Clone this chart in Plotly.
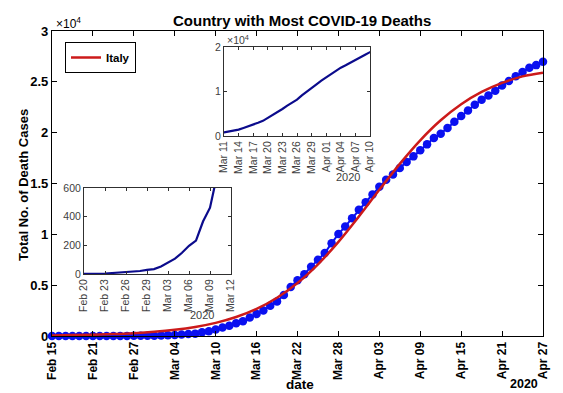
import pandas as pd
import plotly.graph_objects as go

# ---------------- data ----------------
start_date = "2020-02-15"
italy_deaths = [
    0, 0, 0, 0, 0, 0, 1, 2, 3, 7, 10, 12, 17, 21, 29,            # Feb 15 - Feb 29
    34, 52, 79, 107, 148, 197, 233, 366, 463, 631, 827, 1016, 1266, 1441, 1809,
    2158, 2503, 2978, 3405, 4032, 4825, 5476, 6077, 6820, 7503, 8165, 9134,
    10023, 10779, 11591, 12428,                                   # Mar 1 - Mar 31
    13155, 13915, 14681, 15362, 15887, 16523, 17127, 17669, 18279, 18849,
    19468, 19899, 20465, 21067, 21645, 22170, 22745, 23227, 23660, 24114,
    24648, 25085, 25549, 25969, 26384, 26644, 26977               # Apr 1 - Apr 27
]
fit_dates = ["2020-02-15", "2020-02-18", "2020-02-21", "2020-02-24", "2020-02-27",
             "2020-03-01", "2020-03-04", "2020-03-07", "2020-03-10", "2020-03-13",
             "2020-03-16", "2020-03-19", "2020-03-22", "2020-03-25", "2020-03-28",
             "2020-03-31", "2020-04-03", "2020-04-06", "2020-04-09", "2020-04-12",
             "2020-04-15", "2020-04-18", "2020-04-21", "2020-04-24", "2020-04-27"]
fit_values = [60, 88, 130, 192, 282, 415, 608, 889, 1292, 1867, 2669, 3766, 5212,
              7051, 9260, 11755, 14376, 16933, 19251, 21218, 22794, 24002, 24894,
              25537, 25900]

main_tick_dates = ["2020-02-15", "2020-02-21", "2020-02-27", "2020-03-04", "2020-03-10",
                   "2020-03-16", "2020-03-22", "2020-03-28", "2020-04-03", "2020-04-09",
                   "2020-04-15", "2020-04-21", "2020-04-27"]
main_tick_labels = ["Feb 15", "Feb 21", "Feb 27", "Mar 04", "Mar 10", "Mar 16", "Mar 22",
                    "Mar 28", "Apr 03", "Apr 09", "Apr 15", "Apr 21", "Apr 27"]
main_y_ticks = [0, 5000, 10000, 15000, 20000, 25000, 30000]
main_y_labels = ["0", "0.5", "1", "1.5", "2", "2.5", "3"]

inset1_tick_dates = ["2020-02-20", "2020-02-23", "2020-02-26", "2020-02-29",
                     "2020-03-03", "2020-03-06", "2020-03-09", "2020-03-12"]
inset1_tick_labels = ["Feb 20", "Feb 23", "Feb 26", "Feb 29", "Mar 03", "Mar 06",
                      "Mar 09", "Mar 12"]
inset1_y_ticks = [0, 200, 400, 600]
inset1_y_labels = ["0", "200", "400", "600"]

inset2_tick_dates = ["2020-03-11", "2020-03-14", "2020-03-17", "2020-03-20", "2020-03-23",
                     "2020-03-26", "2020-03-29", "2020-04-01", "2020-04-04", "2020-04-07",
                     "2020-04-10"]
inset2_tick_labels = ["Mar 11", "Mar 14", "Mar 17", "Mar 20", "Mar 23", "Mar 26",
                      "Mar 29", "Apr 01", "Apr 04", "Apr 07", "Apr 10"]
inset2_y_ticks = [0, 10000, 20000]
inset2_y_labels = ["0", "1", "2"]

dates = pd.date_range(start_date, periods=len(italy_deaths), freq="D")

FONT = "Liberation Sans, Arial, sans-serif"
BLUE = "#0a10f0"
NAVY = "#0b0b8c"
RED = "#cc1a1a"
GRAY = "#404040"

# plot area of the main axes on screen (page has an 8px body margin)
PX0, PX1, PY0, PY1 = 52, 543, 31, 336
OFF = 8


def px(x):
    return (x - PX0) / (PX1 - PX0)


def py(y):
    return (PY1 - y) / (PY1 - PY0)


fig = go.Figure()

fig.add_trace(go.Scatter(x=dates, y=italy_deaths, mode="lines+markers",
                         line=dict(color=BLUE, width=2),
                         marker=dict(color=BLUE, size=8.5, line=dict(width=0)),
                         showlegend=False, cliponaxis=False, xaxis="x", yaxis="y"))
fig.add_trace(go.Scatter(x=pd.to_datetime(fit_dates), y=fit_values, mode="lines",
                         line=dict(color=RED, width=2.5, shape="spline"),
                         name="Italy", xaxis="x", yaxis="y"))
fig.add_trace(go.Scatter(x=dates, y=italy_deaths, mode="lines",
                         line=dict(color=NAVY, width=2.2), showlegend=False,
                         xaxis="x2", yaxis="y2"))
fig.add_trace(go.Scatter(x=dates, y=italy_deaths, mode="lines",
                         line=dict(color=NAVY, width=2.2), showlegend=False,
                         xaxis="x3", yaxis="y3"))

main_tick_font = dict(family=FONT, size=12, color="black", weight="bold")
main_ytick_font = dict(family=FONT, size=13, color="black", weight="bold")
inset_tick_font = dict(family=FONT, size=10.5, color=GRAY)

common = dict(showgrid=False, zeroline=False, showline=True, mirror="ticks",
              ticks="inside", automargin=False)
inset_style = dict(linecolor="#303030", linewidth=1, ticklen=3, tickcolor="#303030",
                   tickfont=inset_tick_font)

W, H = 563, 393
fig.update_layout(
    width=W, height=H,
    margin=dict(l=PX0 - OFF, r=W - (PX1 - OFF), t=PY0 - OFF, b=H - (PY1 - OFF),
                autoexpand=False),
    paper_bgcolor="white", plot_bgcolor="white",
    font=dict(family=FONT, color="black"),
    xaxis=dict(**common, type="date", range=["2020-02-15", "2020-04-27"],
               tickvals=main_tick_dates, ticktext=main_tick_labels, tickangle=-90,
               tickfont=main_tick_font, linecolor="black", linewidth=1.2,
               ticklen=5, tickcolor="black"),
    yaxis=dict(**common, range=[0, 30000], tickvals=main_y_ticks,
               ticktext=main_y_labels, tickfont=main_ytick_font,
               linecolor="black", linewidth=1.2, ticklen=5, tickcolor="black"),
    xaxis2=dict(**common, **inset_style, type="date", domain=[px(84), px(231)],
                anchor="y2", range=["2020-02-20", "2020-03-12"],
                tickvals=inset1_tick_dates, ticktext=inset1_tick_labels,
                tickangle=-90),
    yaxis2=dict(**common, **inset_style, domain=[py(274), py(188)], anchor="x2",
                range=[0, 600], tickvals=inset1_y_ticks, ticktext=inset1_y_labels),
    xaxis3=dict(**common, **inset_style, type="date", domain=[px(224), px(370)],
                anchor="y3", range=["2020-03-11", "2020-04-10"],
                tickvals=inset2_tick_dates, ticktext=inset2_tick_labels,
                tickangle=-90),
    yaxis3=dict(**common, **inset_style, domain=[py(136), py(47)], anchor="x3",
                range=[0, 20000], tickvals=inset2_y_ticks, ticktext=inset2_y_labels),
    legend=dict(x=px(65), y=py(42), xanchor="left", yanchor="top",
                bordercolor="black", borderwidth=1, bgcolor="white",
                font=dict(family=FONT, size=11.5, color="black", weight="bold"),
                itemwidth=30, tracegroupgap=0),
)

annotations = [
    # text, x, y, size, color, xanchor, angle
    ("<b>Country with Most COVID-19 Deaths</b>", 302, 20, 15, "black", "center", 0),
    ("<b>Total No. of Death Cases</b>", 24, 185, 13, "black", "center", -90),
    ("<b>date</b>", 300, 384, 13.5, "black", "center", 0),
    ("<b>2020</b>", 524, 384, 12.5, "black", "center", 0),
    ("×10<sup>4</sup>", 54, 23, 12, "black", "left", 0),
    ("×10<sup>4</sup>", 225, 40, 10.5, GRAY, "left", 0),
    ("2020", 202, 315, 11, GRAY, "center", 0),
    ("2020", 348, 177, 11, GRAY, "center", 0),
]
for text, x, y, size, color, xa, ang in annotations:
    fig.add_annotation(text=text, xref="paper", yref="paper", x=px(x), y=py(y),
                       xanchor=xa, yanchor="middle", showarrow=False, textangle=ang,
                       font=dict(family=FONT, size=size, color=color))

fig.write_html("out.html")
